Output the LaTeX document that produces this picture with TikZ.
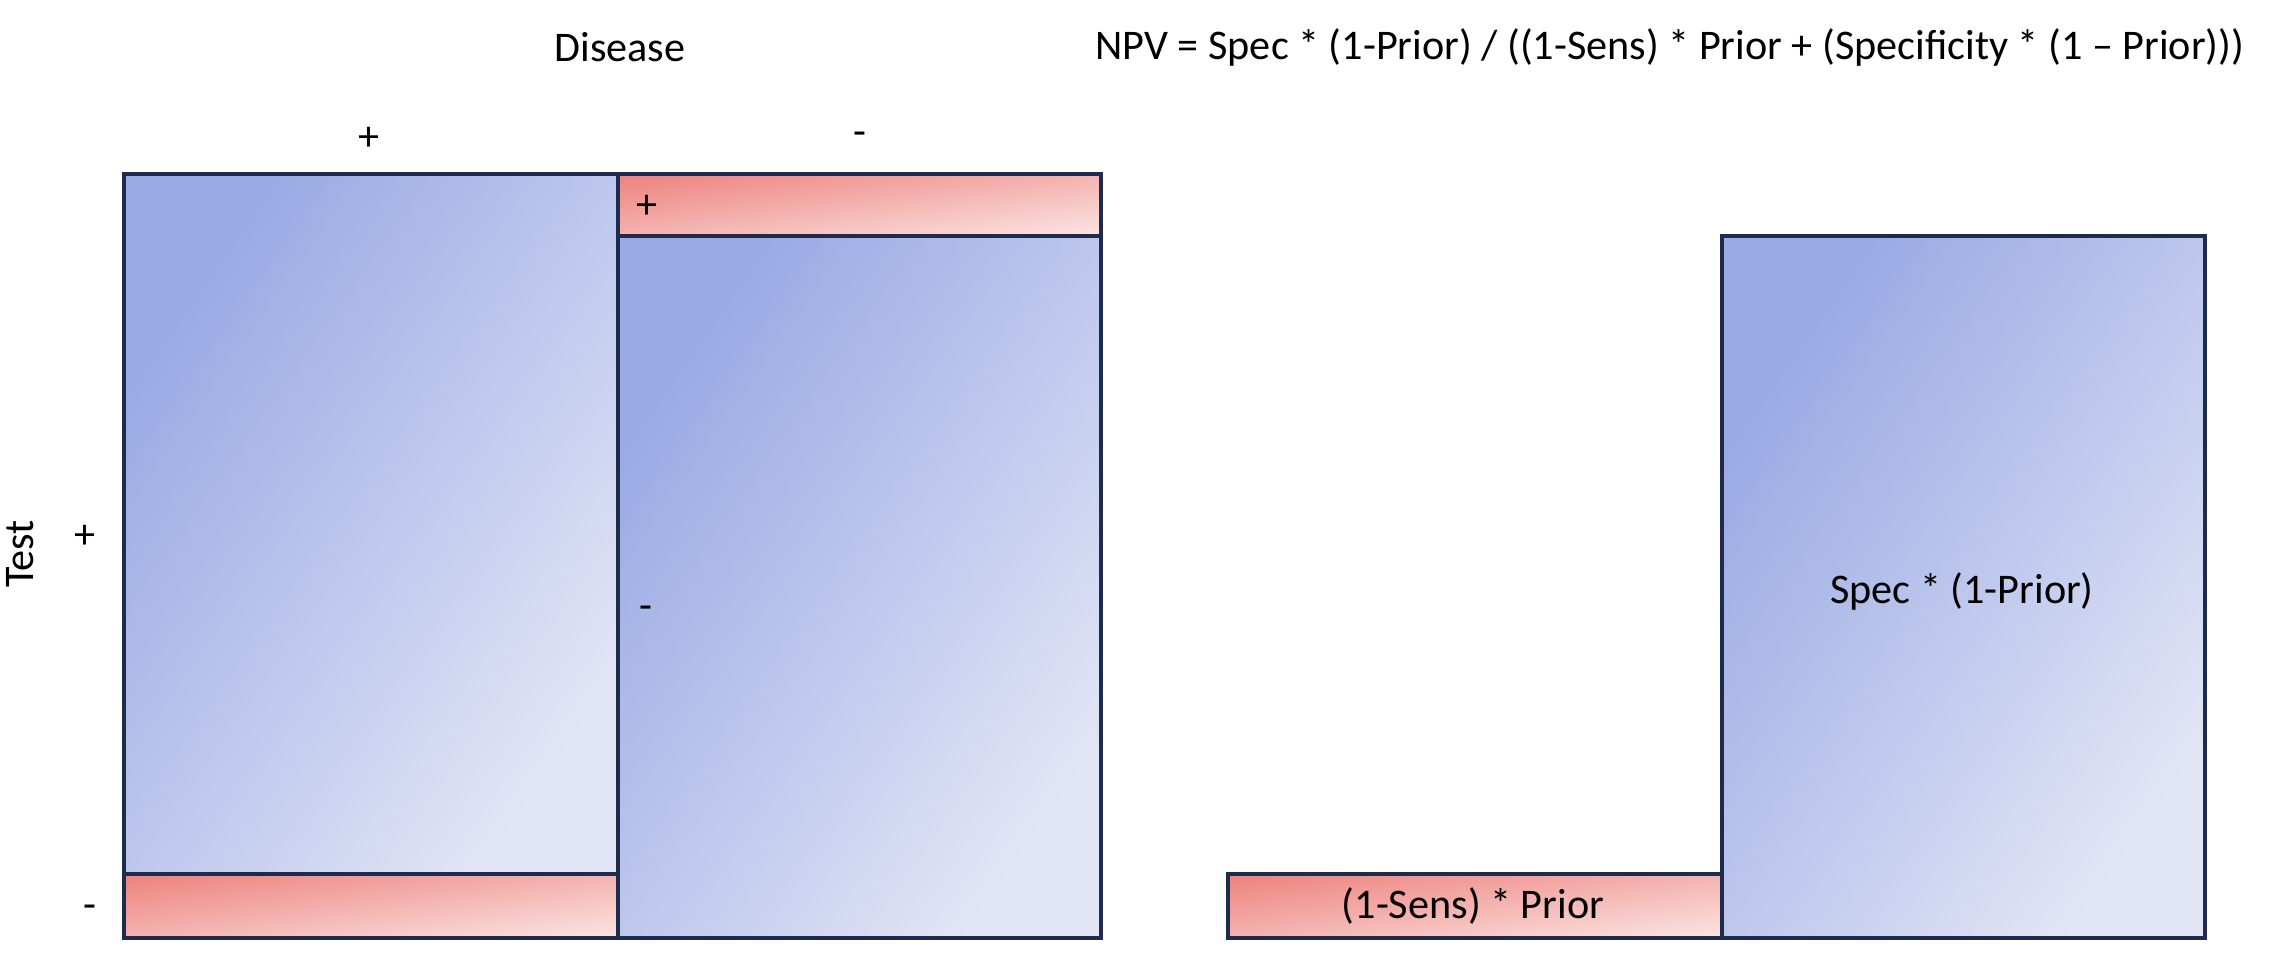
\documentclass[tikz,border=0pt]{standalone}
\usepackage{fontspec}
\setmainfont{Carlito}
\definecolor{bluedark}{HTML}{98A9E4}
\definecolor{bluelight}{HTML}{E2E5F6}
\definecolor{reddark}{HTML}{EE8682}
\definecolor{redlight}{HTML}{FAE0DE}
\definecolor{edge}{HTML}{1F2B4D}
\tikzset{
  bluebox/.style={draw=edge, line width=0.9pt, top color=bluedark, bottom color=bluelight, shading angle=55},
  redbox/.style={draw=edge, line width=0.9pt, top color=reddark, bottom color=redlight, shading angle=7.2},
  lbl/.style={font=\fontsize{12}{14}\selectfont, inner sep=0pt, text=black}
}
\begin{document}
\begin{tikzpicture}[x=0.01cm, y=-0.01cm]
\useasboundingbox (0,0) rectangle (2287,980);
% coordinates
\coordinate (a1) at (124,174);
\coordinate (a2) at (618,874);
\coordinate (a3) at (124,874);
\coordinate (a4) at (618,938);
\coordinate (b1) at (618,174);
\coordinate (b2) at (1101,236);
\coordinate (b3) at (618,236);
\coordinate (b4) at (1101,938);
\coordinate (c1) at (1228,874);
\coordinate (c2) at (1722,938);
\coordinate (d1) at (1722,236);
\coordinate (d2) at (2205,938);
% boxes
\shade[bluebox] (a1) rectangle (a2);
\shade[redbox] (a3) rectangle (a4);
\shade[redbox] (b1) rectangle (b2);
\shade[bluebox] (b3) rectangle (b4);
\shade[redbox] (c1) rectangle (c2);
\shade[bluebox] (d1) rectangle (d2);
% labels
\node[lbl] (disease) at (620,47) {Disease};
\node[lbl] (dplus) at (369,139) {+};
\node[lbl] (dminus) at (860,139) {-};
\node[lbl, rotate=90] (test) at (20,554) {Test};
\node[lbl] (tplus) at (85,537) {+};
\node[lbl] (tminus) at (90,912) {-};
\node[lbl, anchor=west] (inplus) at (636,207) {+};
\node[lbl, anchor=west] (inminus) at (639,613) {-};
\node[lbl] (npv) at (1670,47) {NPV = Spec * (1-Prior) / ((1-Sens) * Prior + (Specificity * (1 – Prior)))};
\node[lbl] (spec) at (1962,591) {Spec * (1-Prior)};
\node[lbl] (sens) at (1473,906) {(1-Sens) * Prior};
\end{tikzpicture}
\end{document}
